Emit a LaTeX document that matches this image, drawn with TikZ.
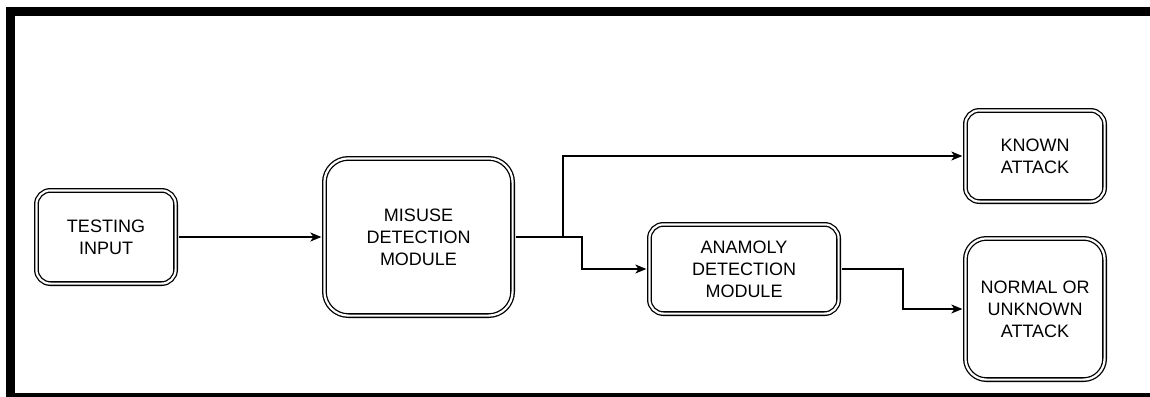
\documentclass[tikz,border=0pt]{standalone}
\usepackage{fontspec}
\setmainfont{Liberation Sans}
\usetikzlibrary{arrows.meta}
\begin{document}
\begin{tikzpicture}[x=1pt,y=-1pt,
  box/.style={draw=black, double=white, line width=1.3pt, double distance=2.2pt,
    rectangle, inner sep=0pt, align=center,
    font=\fontsize{18}{22}\selectfont},
  conn/.style={draw=black, line width=1.3pt, shorten <=2.4pt},
  arr/.style={conn, -{Stealth[length=11pt,width=9pt,inset=3pt]}, shorten >=2.4pt}]
\useasboundingbox (0,0) rectangle (1150,396);
\clip (0,0) rectangle (1150,396);
% outer frame
\draw[line width=9pt] (10.5,12) rectangle (1170,397.5);
% blocks
\node[box, rounded corners=14pt, minimum width=139.2pt, minimum height=93.2pt] (test) at (106,237) {TESTING\\INPUT};
\node[box, rounded corners=24pt, minimum width=188.2pt, minimum height=157.2pt] (mis) at (418.5,237) {MISUSE\\DETECTION\\MODULE};
\node[box, rounded corners=14pt, minimum width=189.2pt, minimum height=89.2pt] (anam) at (744,269) {ANAMOLY\\DETECTION\\MODULE};
\node[box, rounded corners=14pt, minimum width=139.2pt, minimum height=91.2pt] (known) at (1035,156) {KNOWN\\ATTACK};
\node[box, rounded corners=21pt, minimum width=139.2pt, minimum height=141.2pt] (normal) at (1035,309) {NORMAL OR\\UNKNOWN\\ATTACK};
% bend points of the connectors
\coordinate (j1) at (563,237);
\coordinate (j2) at (582,237);
\coordinate (j3) at (903,269);
% connectors
\draw[arr] (test.east) -- (mis.west);
\draw[arr] (mis.east) -- (j1) |- (known.west);
\draw[arr] (mis.east) -- (j2) |- (anam.west);
\draw[arr] (anam.east) -- (j3) |- (normal.west);
\end{tikzpicture}
\end{document}
